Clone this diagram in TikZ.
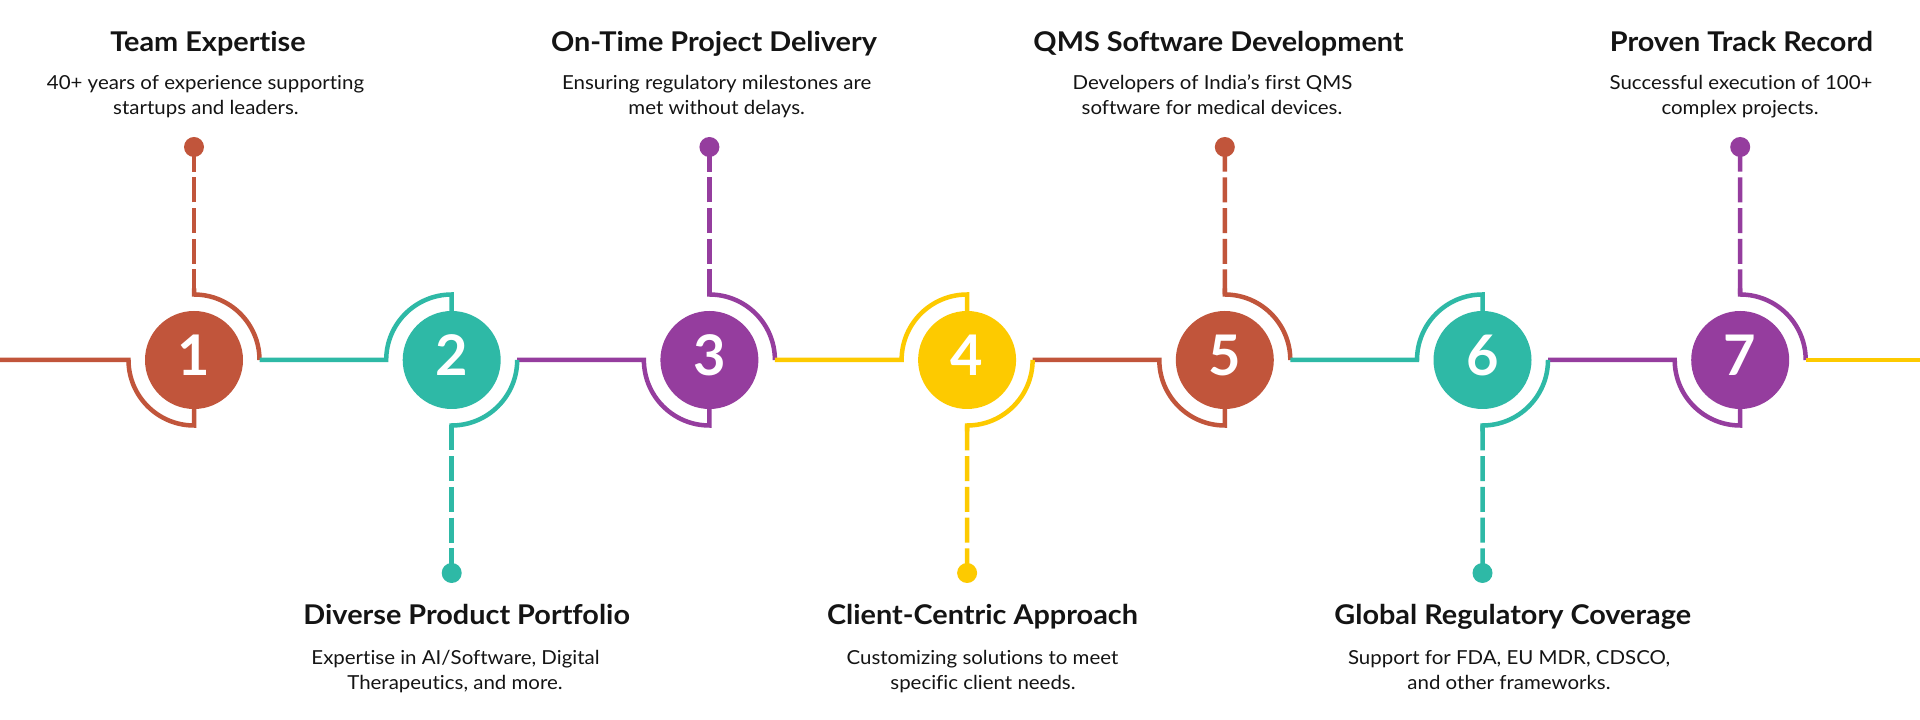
\documentclass[tikz,border=0pt]{standalone}
\usepackage{fontspec}
\setmainfont{Lato}[FakeStretch=1.06, Ligatures=NoCommon]
\newfontfamily\digitfont{Lato}
\definecolor{corange}{HTML}{C1553B}
\definecolor{cteal}{HTML}{2EB9A6}
\definecolor{cpurple}{HTML}{953D9E}
\definecolor{cyellow}{HTML}{FDCA00}
\definecolor{txt}{HTML}{141414}
\begin{document}
\begin{tikzpicture}[x=1pt,y=1pt,
  link/.style={line width=4.5pt, line join=miter},
  dashlink/.style={line width=4.5pt, dash pattern=on 25pt off 5.7pt},
  numdisc/.style={circle, minimum size=98pt, inner sep=0pt, text=white,
    font=\digitfont\fontsize{56}{56}\selectfont\bfseries},
  enddot/.style={circle, minimum size=20pt, inner sep=0pt},
  head/.style={font=\fontsize{27.2}{30}\selectfont\bfseries, inner sep=0pt, anchor=base, text=txt},
  body/.style={font=\fontsize{19.3}{24}\selectfont, inner sep=0pt, anchor=base, text=txt}]
\useasboundingbox (0,0) rectangle (1920,720);
\fill[white] (0,0) rectangle (1920,720);

% coordinates of circles and arc ends
\foreach \i in {1,...,7}{
  \pgfmathsetmacro\cx{194+257.7*(\i-1)}
  \coordinate (c\i) at (\cx,360);
  \coordinate (L\i) at (\cx-65.5,360);
  \coordinate (R\i) at (\cx+65.5,360);
  \coordinate (T\i) at (\cx,425.5);
  \coordinate (B\i) at (\cx,294.5);
  \coordinate (U\i) at (\cx,431.5);
  \coordinate (D\i) at (\cx,288.5);
}
\coordinate (R0) at (0,360);
\coordinate (E) at (1920,360);

% end dots
\node[enddot, fill=corange] (d1) at (194,573) {};
\node[enddot, fill=cteal] (d2) at (451.7,147) {};
\node[enddot, fill=cpurple] (d3) at (709.4,573) {};
\node[enddot, fill=cyellow] (d4) at (967.1,147) {};
\node[enddot, fill=corange] (d5) at (1224.8,573) {};
\node[enddot, fill=cteal] (d6) at (1482.5,147) {};
\node[enddot, fill=cpurple] (d7) at (1740.2,573) {};

% odd circles: line from left + lower-left arc, upper-right arc + dashed line up
\foreach \i/\p/\col in {1/0/corange, 3/2/cpurple, 5/4/corange, 7/6/cpurple}{
  \draw[link, \col] (R\p) -- (L\i) arc[start angle=180, end angle=270, radius=65.5] -- ++(0,16.5);
  \draw[link, \col] (U\i) -- (T\i) arc[start angle=90, end angle=0, radius=65.5];
  \draw[dashlink, \col] (T\i) -- (d\i.center);
}
% even circles: line from left + upper-left arc, lower-right arc + dashed line down
\foreach \i/\p/\col in {2/1/cteal, 4/3/cyellow, 6/5/cteal}{
  \draw[link, \col] (R\p) -- (L\i) arc[start angle=180, end angle=90, radius=65.5] -- ++(0,-16.5);
  \draw[link, \col] (D\i) -- (B\i) arc[start angle=-90, end angle=0, radius=65.5];
  \draw[dashlink, \col] (B\i) -- (d\i.center);
}
\draw[link, cyellow] (R7) -- (E);

% numbered discs
\node[numdisc, fill=corange] (n1) at (c1) {\raisebox{9pt}{1}};
\node[numdisc, fill=cteal] (n2) at (c2) {\raisebox{9pt}{2}};
\node[numdisc, fill=cpurple] (n3) at (c3) {\raisebox{9pt}{3}};
\node[numdisc, fill=cyellow] (n4) at (c4) {\raisebox{9pt}{4}};
\node[numdisc, fill=corange] (n5) at (c5) {\raisebox{9pt}{5}};
\node[numdisc, fill=cteal] (n6) at (c6) {\raisebox{9pt}{6}};
\node[numdisc, fill=cpurple] (n7) at (c7) {\raisebox{9pt}{7}};

% top texts
\node[head] (h1) at (208,668.5) {Team Expertise};
\node[body] (a1) at (205.5,630) {40+ years of experience supporting};
\node[body] (b1) at (206,605.7) {startups and leaders.};

\node[head] (h3) at (714,668.5) {On-Time Project Delivery};
\node[body] (a3) at (716.7,630) {Ensuring regulatory milestones are};
\node[body] (b3) at (716.7,605.7) {met without delays.};

\node[head] (h5) at (1218.5,668.5) {QMS Software Development};
\node[body] (a5) at (1212.5,630) {Developers of India’s first QMS};
\node[body] (b5) at (1212,605.7) {software for medical devices.};

\node[head] (h7) at (1741.5,668.5) {Proven Track Record};
\node[body] (a7) at (1741,630) {Successful execution of 100+};
\node[body] (b7) at (1740,605.7) {complex projects.};

% bottom texts
\node[head] (h2) at (466.7,95.5) {Diverse Product Portfolio};
\node[body] (a2) at (455.5,55.5) {Expertise in AI/Software, Digital};
\node[body] (b2) at (455,30.5) {Therapeutics, and more.};

\node[head] (h4) at (982.5,95.5) {Client-Centric Approach};
\node[body] (a4) at (982.5,55.5) {Customizing solutions to meet};
\node[body] (b4) at (983,30.5) {specific client needs.};

\node[head] (h6) at (1512.7,95.5) {Global Regulatory Coverage};
\node[body] (a6) at (1509,55.5) {Support for FDA, EU MDR, CDSCO,};
\node[body] (b6) at (1509,30.5) {and other frameworks.};
\end{tikzpicture}
\end{document}
